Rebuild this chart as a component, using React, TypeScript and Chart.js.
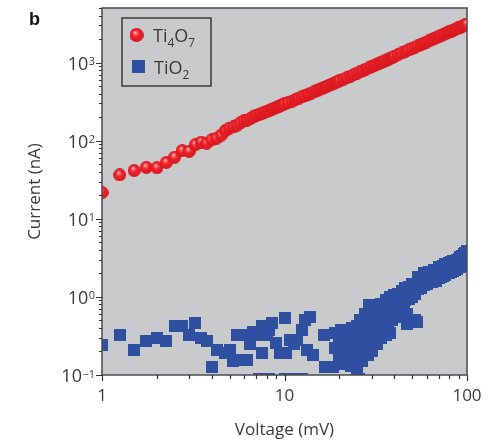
import React, { useEffect, useRef } from 'react';
import { Chart, registerables } from 'chart.js';

Chart.register(...registerables);

// ---------- data ----------
const ti4o7Voltage = [
  1, 1.25, 1.5, 1.75, 2, 2.25, 2.5, 2.75, 3, 3.25,
  3.5, 3.75, 4, 4.25, 4.5, 4.75, 5, 5.25, 5.5, 5.75,
  6, 6.25, 6.5, 6.75, 7, 7.25, 7.5, 7.75, 8, 8.25,
  8.5, 8.75, 9, 9.25, 9.5, 9.75, 10,
  10.5, 11, 11.5, 12, 12.5, 13, 13.5, 14, 14.5, 15,
  15.5, 16, 16.5, 17, 17.5, 18, 18.5, 19, 19.5, 20,
  21, 22, 23, 24, 25, 26, 27, 28, 29, 30,
  31, 32, 33, 34, 35, 36, 37, 38, 39, 40,
  42, 44, 46, 48, 50, 52, 54, 56, 58, 60,
  62, 64, 66, 68, 70, 72, 74, 76, 78, 80,
  82, 84, 86, 88, 90, 92, 94, 96, 98, 100,
];
const ti4o7Current = [
  21.7, 36.5, 41.5, 45.5, 45, 52.5, 61.5, 74.5, 73, 89,
  96, 93, 103, 108, 118, 135, 145, 150, 158, 170,
  180, 184, 192, 202, 212, 216, 222, 231, 238, 243,
  252, 259, 266, 271, 280, 288, 295,
  309, 321, 337, 351, 366, 377, 393, 407, 421, 434,
  451, 464, 481, 493, 509, 521, 538, 551, 567, 582,
  611, 643, 671, 703, 732, 764, 793, 826, 855, 889,
  917, 951, 981, 1014, 1044, 1078, 1107, 1141, 1171, 1206,
  1266, 1331, 1391, 1456, 1517, 1581, 1642, 1707, 1769, 1834,
  1895, 1961, 2022, 2088, 2149, 2215, 2277, 2343, 2404, 2471,
  2532, 2598, 2660, 2726, 2789, 2855, 2917, 2983, 3045, 3110,
];

const tio2Voltage = [
  1, 1.25, 1.5, 1.75, 2, 2.25, 2.5, 2.75, 3, 3.25,
  3.5, 3.75, 4, 4.25, 4.75, 5, 5.25, 5.5, 5.5, 6,
  6.25, 6.5, 6.75, 7, 7.25, 7.5, 7.5, 7.75, 8, 8.25,
  8.25, 8.5, 9, 9.5, 10, 10, 10.25, 10.75, 11, 11.25,
  11.75, 12, 12.5, 12.5, 13, 13.25, 13.75, 14.25, 16.5, 16.75,
  18.5, 19, 19, 20.75,
  20, 20, 20.5, 21, 21, 21.5, 22, 22, 22.5, 23,
  23, 23.5, 23.5, 24, 24, 24.5, 25, 25, 25, 25.5,
  25.5, 26, 26, 26.5, 26.5, 27, 27, 27.5, 27.5, 28,
  28, 28.5, 28.5, 29, 29, 29.5, 29.5, 30, 30, 30,
  31, 31, 32, 32, 32, 33, 33, 34, 34, 34,
  35, 35, 36, 36, 36, 37, 37, 38, 38, 38,
  39, 39, 40, 40, 41, 41, 42, 42, 43, 43,
  44, 44, 45, 45, 46, 46, 47, 47, 47, 48,
  48, 49, 49, 50, 50, 50, 52, 52, 52, 53.5,
  54, 54, 56, 56, 58, 58, 60, 60, 62, 62,
  64, 64, 66, 66, 68, 68, 70, 70, 72, 72,
  74, 74, 76, 76, 78, 78, 80, 80, 82, 82,
  84, 84, 86, 86, 88, 88, 90, 90, 92, 92,
  94, 94, 96, 96, 98, 98, 100, 100,
];
const tio2Current = [
  0.24, 0.33, 0.21, 0.27, 0.30, 0.27, 0.42, 0.42, 0.33, 0.46,
  0.30, 0.27, 0.128, 0.21, 0.19, 0.21, 0.15, 0.155, 0.33, 0.33,
  0.155, 0.25, 0.36, 0.33, 0.09, 0.42, 0.19, 0.09, 0.33, 0.38,
  0.09, 0.46, 0.26, 0.19, 0.53, 0.09, 0.19, 0.28, 0.09, 0.25,
  0.28, 0.09, 0.38, 0.09, 0.51, 0.21, 0.56, 0.18, 0.33, 0.128,
  0.128, 0.34, 0.22, 0.32,
  0.25, 0.16, 0.38, 0.2, 0.3, 0.14, 0.25, 0.36, 0.18, 0.3,
  0.13, 0.22, 0.4, 0.28, 0.16, 0.35, 0.12, 0.22, 0.42, 0.3,
  0.09, 0.2, 0.5, 0.35, 0.15, 0.28, 0.45, 0.2, 0.6, 0.38,
  0.25, 0.5, 0.18, 0.79, 0.3, 0.45, 0.22, 0.6, 0.35, 0.2,
  0.5, 0.3, 0.7, 0.4, 0.25, 0.55, 0.33, 0.8, 0.45, 0.3,
  0.65, 0.4, 0.9, 0.55, 0.33, 0.7, 0.45, 1.0, 0.6, 0.35,
  0.8, 0.5, 1.05, 0.65, 0.85, 0.55, 1.1, 0.75, 0.95, 0.6,
  1.2, 0.8, 1.05, 0.65, 1.3, 0.9, 1.15, 0.6, 0.45, 1.35,
  0.95, 1.25, 0.5, 1.45, 1.0, 0.48, 1.4, 1.1, 0.5, 0.48,
  1.8, 1.25, 1.6, 1.3, 2.0, 1.4, 1.8, 1.45, 2.1, 1.6,
  2.0, 1.55, 2.2, 1.7, 2.1, 1.6, 2.4, 1.75, 2.3, 1.8,
  2.5, 1.85, 2.6, 1.9, 2.5, 2.0, 2.7, 2.0, 2.8, 2.1,
  2.9, 2.15, 2.8, 2.2, 3.0, 2.3, 3.1, 2.4, 3.2, 2.4,
  3.3, 2.5, 3.5, 2.6, 3.7, 2.8, 3.9, 3.0,
];

const xTickValues = [1, 10, 100];
const xTickLabels = ['1', '10', '100'];
const yTickValues = [0.1, 1, 10, 100, 1000];
const yTickExponents = ['\u22121', '0', '1', '2', '3'];

const xTitle = 'Voltage (mV)';
const yTitle = 'Current (nA)';
const panelLabel = 'b';

// ---------- styles ----------
const FONT = '"Open Sans", "Noto Sans", sans-serif';
const TEXT = '#3a3a3a';
const BLUE = '#2f50a0';
const PLOT_BG = '#c9cacc';

function makeSphere(d: number): HTMLCanvasElement {
  const c = document.createElement('canvas');
  c.width = d;
  c.height = d;
  const g = c.getContext('2d')!;
  const r = d / 2;
  const grad = g.createRadialGradient(r * 0.8, r * 0.6, 0, r, r, r);
  grad.addColorStop(0, '#fff0f0');
  grad.addColorStop(0.18, '#ff7a7e');
  grad.addColorStop(0.45, '#f2262e');
  grad.addColorStop(1, '#d3151d');
  g.fillStyle = grad;
  g.beginPath();
  g.arc(r, r, r, 0, Math.PI * 2);
  g.fill();
  return c;
}

function makeSquare(side: number, color: string): HTMLCanvasElement {
  const c = document.createElement('canvas');
  c.width = side;
  c.height = side;
  const g = c.getContext('2d')!;
  g.fillStyle = color;
  g.fillRect(0, 0, side, side);
  return c;
}

function drawSubText(ctx: CanvasRenderingContext2D, parts: [string, boolean][], x: number, y: number) {
  let cx = x;
  for (const [t, sub] of parts) {
    ctx.font = sub ? `12px ${FONT}` : `18px ${FONT}`;
    ctx.fillText(t, cx, sub ? y + 5 : y);
    cx += ctx.measureText(t).width;
  }
}

export default function App() {
  const ref = useRef<HTMLCanvasElement>(null);

  useEffect(() => {
    const canvas = ref.current!;
    const sphere = makeSphere(13);
    const square = makeSquare(12, BLUE);
    const legendSphere = makeSphere(14);

    const decor = {
      id: 'decor',
      beforeDatasetsDraw(chart: any) {
        const { ctx, chartArea: a } = chart;
        ctx.save();
        ctx.fillStyle = PLOT_BG;
        ctx.fillRect(a.left, a.top, a.right - a.left, a.bottom - a.top);
        ctx.restore();
      },
      afterDatasetsDraw(chart: any) {
        const { ctx, chartArea: a } = chart;
        const xs = chart.scales.x;
        const ys = chart.scales.y;
        ctx.save();
        // frame
        ctx.strokeStyle = '#4a4a4a';
        ctx.lineWidth = 1.5;
        ctx.strokeRect(a.left, a.top, a.right - a.left, a.bottom - a.top);

        // ticks
        ctx.strokeStyle = '#333';
        ctx.lineWidth = 1.2;
        ctx.beginPath();
        for (const d of [1, 10]) {
          for (let m = 1; m <= 9; m++) {
            const v = d * m;
            const px = Math.round(xs.getPixelForValue(v)) + 0.5;
            const len = m === 1 ? 6 : 4;
            ctx.moveTo(px, a.bottom);
            ctx.lineTo(px, a.bottom + len);
          }
        }
        {
          const px = Math.round(xs.getPixelForValue(100)) + 0.5;
          ctx.moveTo(px, a.bottom);
          ctx.lineTo(px, a.bottom + 6);
        }
        for (const d of [0.1, 1, 10, 100, 1000]) {
          for (let m = 1; m <= 9; m++) {
            const v = d * m;
            if (v > 5000) break;
            const py = Math.round(ys.getPixelForValue(v)) + 0.5;
            const len = m === 1 ? 6 : 3;
            ctx.moveTo(a.left, py);
            ctx.lineTo(a.left - len, py);
          }
        }
        ctx.stroke();

        // y tick labels with superscripts
        ctx.fillStyle = TEXT;
        ctx.textAlign = 'right';
        ctx.textBaseline = 'alphabetic';
        yTickValues.forEach((v, i) => {
          const py = ys.getPixelForValue(v);
          const exp = yTickExponents[i];
          ctx.font = `11px ${FONT}`;
          const ew = ctx.measureText(exp).width;
          ctx.fillText(exp, 95, py + 2.5);
          ctx.font = `18px ${FONT}`;
          ctx.fillText('10', 95 - ew - 0.5, py + 7);
        });

        // legend
        ctx.strokeStyle = '#3a3a3a';
        ctx.lineWidth = 1.5;
        ctx.strokeRect(122, 18, 89, 68);
        ctx.drawImage(legendSphere, 136.5 - 7, 35 - 7);
        ctx.fillStyle = BLUE;
        ctx.fillRect(132, 60, 13, 13);
        ctx.fillStyle = TEXT;
        ctx.textAlign = 'left';
        drawSubText(ctx, [['Ti', false], ['4', true], ['O', false], ['7', true]], 153, 41.5);
        drawSubText(ctx, [['TiO', false], ['2', true]], 154, 73.5);

        // panel label
        ctx.fillStyle = '#111';
        ctx.font = 'bold 18px "Liberation Sans", Arial, sans-serif';
        ctx.fillText(panelLabel, 29, 25);
        ctx.restore();
      },
    };

    const chart = new Chart(canvas, {
      type: 'scatter',
      data: {
        datasets: [
          {
            label: 'Ti4O7',
            data: ti4o7Voltage.map((v, i) => ({ x: v, y: ti4o7Current[i] })),
            pointStyle: sphere as any,
            pointRadius: 6.5,
            clip: 0 as any,
          },
          {
            label: 'TiO2',
            data: tio2Voltage.map((v, i) => ({ x: v, y: tio2Current[i] })),
            pointStyle: square as any,
            pointRadius: 6,
            backgroundColor: BLUE,
            borderColor: BLUE,
            borderWidth: 0,
            clip: 0 as any,
          },
        ],
      },
      options: {
        responsive: false,
        animation: false,
        events: [],
        layout: { padding: { left: 0, right: 32, top: 8, bottom: 0 } },
        plugins: { legend: { display: false }, tooltip: { enabled: false } },
        scales: {
          x: {
            type: 'logarithmic',
            min: 1,
            max: 100,
            grid: { display: false, drawTicks: false },
            border: { display: false },
            ticks: {
              autoSkip: false,
              maxRotation: 0,
              padding: 11,
              color: TEXT,
              font: { family: FONT, size: 17 },
              callback: (v: any) => {
                const i = xTickValues.findIndex((t) => Math.abs(t - Number(v)) / t < 1e-6);
                return i >= 0 ? xTickLabels[i] : '';
              },
            },
            title: {
              display: true,
              text: xTitle,
              color: TEXT,
              font: { family: FONT, size: 17 },
              padding: { top: 0, bottom: 0 },
            },
            afterFit: (s: any) => {
              s.height = 65;
            },
          },
          y: {
            type: 'logarithmic',
            min: 0.1,
            max: 5000,
            grid: { display: false, drawTicks: false },
            border: { display: false },
            ticks: { display: false },
            title: {
              display: true,
              text: yTitle,
              color: TEXT,
              font: { family: FONT, size: 17 },
              padding: { top: 25, bottom: 0 },
            },
            afterFit: (s: any) => {
              s.width = 102;
            },
          },
        },
      } as any,
      plugins: [decor],
    });
    return () => chart.destroy();
  }, []);

  return (
    <div style={{ position: 'fixed', left: 0, top: 0, width: 499, height: 440, background: '#fff' }}>
      <canvas ref={ref} width={499} height={440} style={{ display: 'block', width: '499px', height: '440px' }} />
    </div>
  );
}
